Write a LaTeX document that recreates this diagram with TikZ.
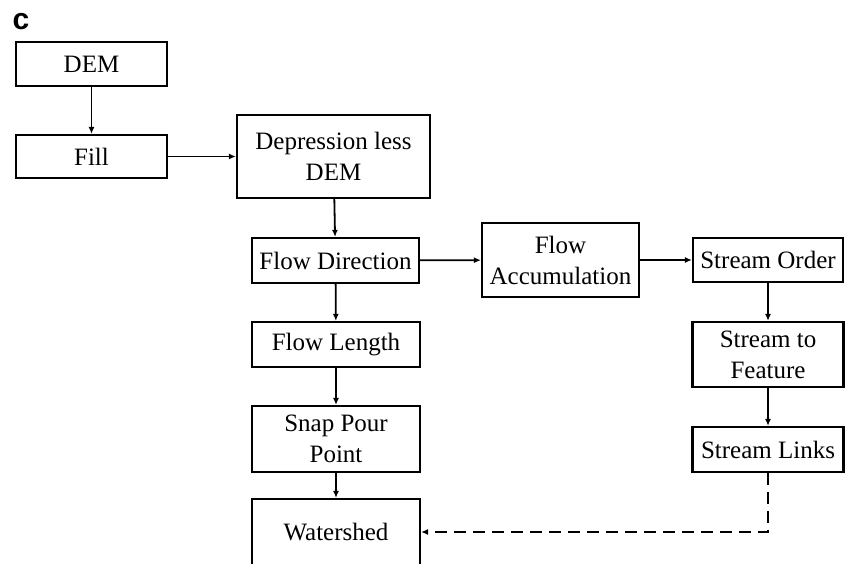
\documentclass[tikz,border=0pt]{standalone}
\usepackage{fontspec}
\setmainfont{Liberation Serif}
\setsansfont{Liberation Sans}
\usepackage{tikz}
\usetikzlibrary{arrows.meta}
\usetikzlibrary{positioning}

\begin{document}
\begin{tikzpicture}[
x=1pt,y=-1pt,
MyBoxes/.style={draw=black,line width=2.2pt,fill=white,align=center,inner sep=0pt,
  font=\fontsize{25}{31}\selectfont},
Arrows/.style={-{Latex[length=7pt, width=6pt]},line width=1.8pt},
DashedArrow/.style={Arrows,dash pattern=on 12pt off 7pt}
]
\useasboundingbox (0,0) rectangle (854,563);
\clip (0,0) rectangle (854,563);

\node[font=\sffamily\bfseries\fontsize{30}{30}\selectfont] (panel) at (21,21.5) {c};

% left column
\node[MyBoxes,minimum width=151pt,minimum height=44pt] (dem) at (91.5,64) {DEM};
\node[MyBoxes,minimum width=151pt,minimum height=43pt] (fill) at (91.5,156.5) {Fill};
\node[MyBoxes,minimum width=193pt,minimum height=83pt] (dep) at (333.5,156.5) {Depression less\\DEM};

% middle column
\node[MyBoxes,minimum width=167pt,minimum height=45pt] (fdir) at (335.5,260.5) {Flow Direction};
\node[MyBoxes,minimum width=168pt,minimum height=45pt] (flen) at (336,344.5) {Flow Length};
\node[MyBoxes,minimum width=168pt,minimum height=66pt] (snap) at (336,439) {Snap Pour\\Point};
\node[MyBoxes,minimum width=168pt,minimum height=66pt] (wshed) at (336,532) {Watershed};

\node[MyBoxes,minimum width=157pt,minimum height=74pt] (facc) at (560.5,260) {Flow\\Accumulation};

% right column
\node[MyBoxes,minimum width=150pt,minimum height=44pt] (sord) at (768,260) {Stream Order};
\node[MyBoxes,minimum width=151pt,minimum height=65pt] (stf) at (768,354.5) {Stream to\\Feature};
\node[MyBoxes,minimum width=151pt,minimum height=45pt] (slink) at (768,449.5) {Stream Links};

\draw[Arrows] (dem) -- (fill);
\draw[Arrows] (fill) -- (dep);
\draw[Arrows] (dep) -- (fdir);
\draw[Arrows] (fdir) -- (facc);
\draw[Arrows] (facc) -- (sord);
\draw[Arrows] (fdir) -- (flen);
\draw[Arrows] (flen) -- (snap);
\draw[Arrows] (snap) -- (wshed);
\draw[Arrows] (sord) -- (stf);
\draw[Arrows] (stf) -- (slink);
\draw[DashedArrow] (slink.south) |- (wshed.east);

\end{tikzpicture}
\end{document}
